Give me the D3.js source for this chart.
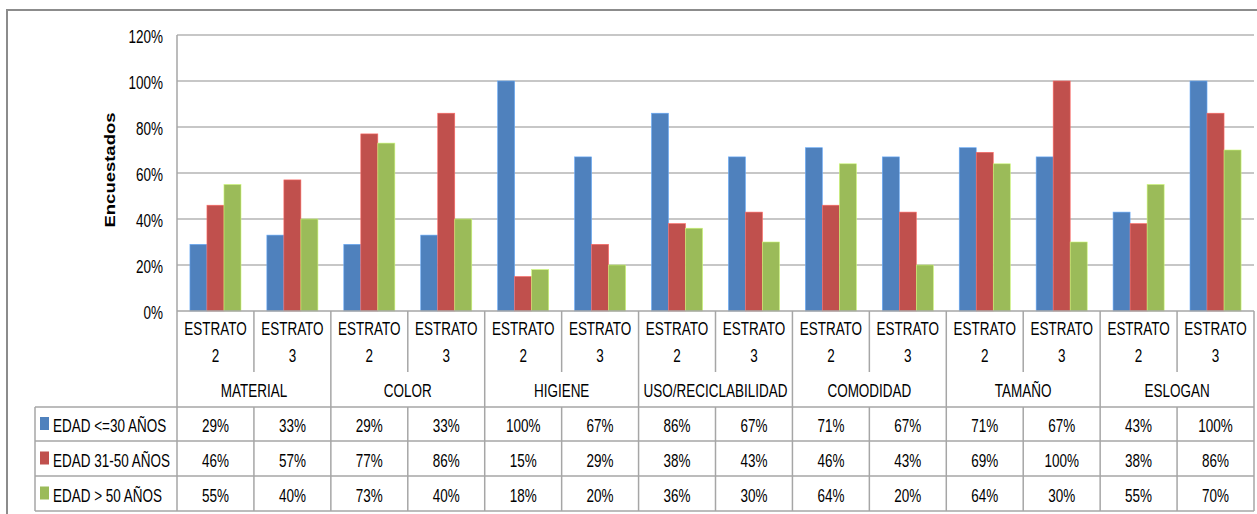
<!DOCTYPE html>
<html>
<head>
<meta charset="utf-8">
<script src="https://cdn.jsdelivr.net/npm/d3@7"></script>
<style>
  html, body { margin: 0; padding: 0; background: #fff; }
  svg { display: block; }
  text { font-family: "Liberation Sans", Arial, sans-serif; fill: #000; }
</style>
</head>
<body>
<script>
// Attributes grouped by strata
const groups = ["MATERIAL", "COLOR", "HIGIENE", "USO/RECICLABILIDAD", "COMODIDAD", "TAMAÑO", "ESLOGAN"];
const strata = ["ESTRATO 2", "ESTRATO 3"];

// Age-group series (percent), one value per group/stratum
const seriesNames = ["EDAD <=30 AÑOS", "EDAD 31-50 AÑOS", "EDAD > 50 AÑOS"];
const edad30 = [29, 33, 29, 33, 100, 67, 86, 67, 71, 67, 71, 67, 43, 100];
const edad3150 = [46, 57, 77, 86, 15, 29, 38, 43, 46, 43, 69, 100, 38, 86];
const edad50 = [55, 40, 73, 40, 18, 20, 36, 30, 64, 20, 64, 30, 55, 70];
const seriesColors = ["#4F81BD", "#C0504D", "#9BBB59"];

const yTicks = [0, 0.2, 0.4, 0.6, 0.8, 1.0, 1.2];
const yTitle = "Encuestados";

const W = 1257, H = 514;
const plotL = 177, plotR = 1254, plotT = 35, plotB = 311;
const tableL = 35;
const labelSplit = 372, groupRowB = 407;
const rowLines = [407, 441, 476, 511];
const SX = 0.75, FS = 18;

// category keys: one per group/stratum pair
const cats = [];
groups.forEach((g, gi) => strata.forEach((s, si) => cats.push({ key: g + "|" + s, group: g, stratum: s, gi, si })));
const series = seriesNames.map((name, i) => ({ name, color: seriesColors[i], values: [edad30, edad3150, edad50][i] }));

const svg = d3.select("body").append("svg").attr("width", W).attr("height", H);

const x = d3.scaleBand().domain(cats.map(c => c.key)).range([plotL, plotR]).paddingInner(0).paddingOuter(0);
const xs = d3.scaleBand().domain(seriesNames).range([0, x.bandwidth()]).paddingInner(0).paddingOuter(0.76);
const y = d3.scaleLinear().domain([0, 1.2]).range([plotB, plotT]);

// text helper: condensed, tall glyphs
function label(g, tx, ty, str, anchor, opts = {}) {
  return g.append("text")
    .attr("transform", `translate(${tx},${ty}) scale(${opts.sx || SX},1)`)
    .attr("text-anchor", anchor)
    .attr("font-size", opts.fs || FS)
    .text(str);
}

// outer chart border
svg.append("path").attr("d", `M7,${H} V10 H${W}`).attr("fill", "none").attr("stroke", "#8c8c8c").attr("stroke-width", 2);

// gridlines
svg.append("g").selectAll("line").data(yTicks.filter(t => t > 0)).join("line")
  .attr("x1", plotL).attr("x2", plotR)
  .attr("y1", d => y(d)).attr("y2", d => y(d))
  .attr("stroke", "#b4b4b4").attr("stroke-width", 1.5);

// y tick labels
const yAxis = d3.axisLeft(y).tickValues(yTicks).tickFormat(d3.format(".0%")).tickSize(0);
const yg = svg.append("g").attr("transform", `translate(${plotL},0)`).call(yAxis);
yg.select(".domain").remove();
yg.selectAll(".tick text").each(function(d) {
  const t = d3.select(this);
  t.attr("x", null).attr("dy", null).attr("font-family", null).attr("fill", null)
   .attr("font-size", FS)
   .attr("transform", `translate(-14,7) scale(${SX},1)`)
   .attr("text-anchor", "end");
});

// y title
svg.append("text")
  .attr("transform", `translate(115,170) rotate(-90)`)
  .attr("text-anchor", "middle")
  .attr("font-weight", "bold")
  .attr("font-size", 15)
  .attr("textLength", 115).attr("lengthAdjust", "spacingAndGlyphs")
  .text(yTitle);

// bars
const barG = svg.append("g");
series.forEach((s, i) => {
  barG.append("g").selectAll("rect").data(cats).join("rect")
    .attr("x", c => x(c.key) + xs(s.name))
    .attr("width", xs.bandwidth())
    .attr("y", (c, k) => y(s.values[k] / 100))
    .attr("height", (c, k) => plotB - y(s.values[k] / 100))
    .attr("fill", s.color)
    .attr("stroke", d3.color(s.color).brighter(0.8)).attr("stroke-width", 0.6);
});

// table grid
const lineColor = "#a6a6a6";
const tg = svg.append("g").attr("stroke", lineColor).attr("stroke-width", 1.5);
// x axis line
tg.append("line").attr("x1", plotL).attr("x2", plotR).attr("y1", plotB).attr("y2", plotB);
// y axis line
tg.append("line").attr("x1", plotL).attr("x2", plotL).attr("y1", plotT).attr("y2", rowLines[3]);
// row lines
tg.selectAll(".row").data(rowLines).join("line")
  .attr("x1", tableL).attr("x2", plotR).attr("y1", d => d).attr("y2", d => d);
// table left edge
tg.append("line").attr("x1", tableL).attr("x2", tableL).attr("y1", rowLines[0]).attr("y2", rowLines[3]);
// category boundaries
cats.forEach((c, k) => {
  const bx = x(c.key) + x.bandwidth();
  if (c.si === 1) {
    tg.append("line").attr("x1", bx).attr("x2", bx).attr("y1", plotB).attr("y2", rowLines[3]);
  } else {
    tg.append("line").attr("x1", bx).attr("x2", bx).attr("y1", plotB).attr("y2", labelSplit);
    tg.append("line").attr("x1", bx).attr("x2", bx).attr("y1", groupRowB).attr("y2", rowLines[3]);
  }
});

// category labels (two lines) and group labels
const lg = svg.append("g");
cats.forEach(c => {
  const cx = x(c.key) + x.bandwidth() / 2;
  const parts = c.stratum.split(" ");
  label(lg, cx, 335, parts[0], "middle");
  label(lg, cx, 362, parts[1], "middle");
});
groups.forEach((g, gi) => {
  const x0 = x(cats[gi * 2].key), x1 = x(cats[gi * 2 + 1].key) + x.bandwidth();
  label(lg, (x0 + x1) / 2, 397, g, "middle");
});

// data table rows: legend key + values
series.forEach((s, i) => {
  const top = rowLines[i], bot = rowLines[i + 1];
  const mid = (top + bot) / 2;
  svg.append("rect").attr("x", 40).attr("y", mid - 7).attr("width", 9).attr("height", 13).attr("fill", s.color);
  label(svg, 53, mid + 8, s.name, "start");
  cats.forEach((c, k) => {
    label(svg, x(c.key) + x.bandwidth() / 2, mid + 8, d3.format(".0%")(s.values[k] / 100), "middle");
  });
});
</script>
</body>
</html>
